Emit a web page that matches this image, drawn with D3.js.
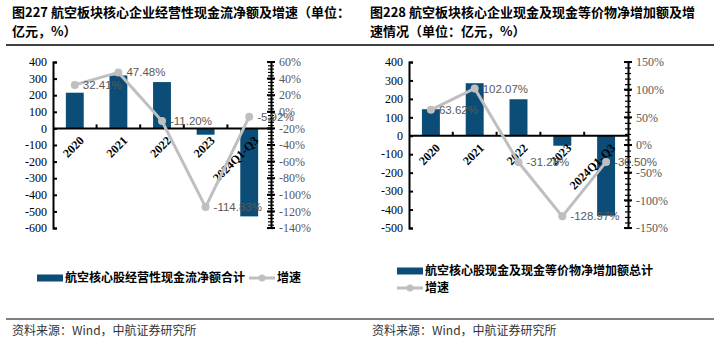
<!DOCTYPE html>
<html><head><meta charset="utf-8">
<script src="https://cdn.jsdelivr.net/npm/d3@7"></script>
<style>
html,body{margin:0;padding:0;background:#fff;}
svg{display:block;}
</style></head>
<body>
<svg id="c" width="721" height="349"></svg>
<script>
// ---- data ----
const categories = ["2020", "2021", "2022", "2023", "2024Q1-Q3"];
const opCashFlow = [215, 319, 279, -38, -530];          // 亿元
const opCashGrowth = [32.41, 47.48, -11.20, -114.83, -5.92]; // %
const netCashIncrease = [144, 285, 198, -54, -433];     // 亿元
const netCashGrowth = [63.62, 102.07, -31.28, -128.97, -30.50]; // %
const leftTicks1 = [400, 300, 200, 100, 0, -100, -200, -300, -400, -500, -600];
const rightTicks1 = [60, 40, 20, 0, -20, -40, -60, -80, -100, -120, -140];
const leftTicks2 = [400, 300, 200, 100, 0, -100, -200, -300, -400, -500];
const rightTicks2 = [150, 100, 50, 0, -50, -100, -150];
const title1 = ["图227  航空板块核心企业经营性现金流净额及增速（单位：", "亿元，%）"];
const title2 = ["图228  航空板块核心企业现金及现金等价物净增加额及增", "速情况（单位：亿元，%）"];
const legendBar1 = "航空核心股经营性现金流净额合计";
const legendBar2 = "航空核心股现金及现金等价物净增加额总计";
const legendLine = "增速";
const source = "资料来源：Wind，中航证券研究所";

const svg = d3.select("#c");
const BAR = "#0B4D76", LINE = "#BFBFBF";
const serif = "'Liberation Serif','Times New Roman',serif";
const cjk = "'Noto Sans CJK SC',sans-serif";

// separator lines
svg.append("line").attr("x1",6).attr("x2",714).attr("y1",45).attr("y2",45).attr("stroke","#000").attr("stroke-width",1.5);
svg.append("line").attr("x1",6).attr("x2",714).attr("y1",319).attr("y2",319).attr("stroke","#000").attr("stroke-width",1.2);

function drawChart(o){
  const g = svg.append("g");
  // title
  o.title.forEach((t,i)=>{
    g.append("text").attr("x",o.titleX).attr("y",17+i*19).text(t)
      .attr("font-family",cjk).attr("font-weight","bold").attr("font-size",13).attr("fill","#000");
  });
  const x = d3.scaleBand().domain(categories).range([o.x0,o.x1]).paddingInner(0.59).paddingOuter(0.295);
  const yL = d3.scaleLinear().domain([d3.min(o.lTicks), d3.max(o.lTicks)]).range([o.yBot,o.yTop]);
  const yR = d3.scaleLinear().domain([d3.min(o.rTicks), d3.max(o.rTicks)]).range([o.yBot,o.yTop]);
  // bars
  g.selectAll(".bar").data(o.bars).enter().append("rect")
    .attr("x",(d,i)=>x(categories[i])).attr("width",x.bandwidth())
    .attr("y",d=>yL(Math.max(0,d))).attr("height",d=>Math.abs(yL(d)-yL(0)))
    .attr("fill",BAR);
  // left axis
  const la = g.append("g").attr("transform",`translate(${o.x0},0)`)
    .call(d3.axisRight(yL).tickValues(o.lTicks).tickSize(4).tickFormat(""));
  la.select(".domain").attr("stroke","#000").attr("stroke-width",2);
  la.selectAll(".tick line").attr("stroke","#000").attr("stroke-width",2);
  g.selectAll(".ll").data(o.lTicks).enter().append("text")
    .attr("x",o.x0-6).attr("y",d=>yL(d)).attr("dy","0.35em").attr("text-anchor","end")
    .attr("font-family",serif).attr("font-size",12).attr("fill","#000").text(d=>d);
  // right axis
  const step = (o.rTicks[0]-o.rTicks[1]);
  const minor = d3.range(d3.min(o.rTicks), d3.max(o.rTicks)+0.001, step/5);
  const ra = g.append("g").attr("transform",`translate(${o.x1},0)`)
    .call(d3.axisRight(yR).tickValues(minor).tickSize(3).tickSizeOuter(0).tickFormat(""));
  ra.select(".domain").attr("stroke","#000").attr("stroke-width",2);
  ra.selectAll(".tick line").attr("stroke","#000").attr("stroke-width",1.2).attr("x1",-3);
  g.selectAll(".rmaj").data(o.rTicks).enter().append("line")
    .attr("x1",o.x1-4).attr("x2",o.x1+4).attr("y1",d=>yR(d)).attr("y2",d=>yR(d))
    .attr("stroke","#000").attr("stroke-width",2);
  g.selectAll(".rl").data(o.rTicks).enter().append("text")
    .attr("x",o.x1+8).attr("y",d=>yR(d)).attr("dy","0.35em")
    .attr("font-family",serif).attr("font-size",12).attr("fill","#595959").text(d=>d+"%");
  // x axis (zero line)
  g.append("line").attr("x1",o.x0).attr("x2",o.x1).attr("y1",yL(0)).attr("y2",yL(0)).attr("stroke","#000").attr("stroke-width",2);
  const bounds = categories.slice(1).map(c=>x(c)-x.step()*x.paddingInner()/2);
  g.selectAll(".xt").data(bounds).enter().append("line")
    .attr("x1",d=>d).attr("x2",d=>d).attr("y1",yL(0)).attr("y2",yL(0)-4).attr("stroke","#000").attr("stroke-width",2);
  g.selectAll(".xl").data(categories).enter().append("text")
    .attr("transform",c=>`translate(${x(c)+x.bandwidth()/2+4},${yL(0)+7}) rotate(-45)`)
    .attr("text-anchor","end").attr("dy","0.7em")
    .attr("font-family",serif).attr("font-weight","bold").attr("font-size",12).attr("fill","#000").text(c=>c);
  // line
  const cx = (d,i)=>x(categories[i])+x.bandwidth()/2;
  g.append("path").datum(o.line)
    .attr("d",d3.line().x(cx).y(d=>yR(d)))
    .attr("fill","none").attr("stroke",LINE).attr("stroke-width",3);
  g.selectAll(".pt").data(o.line).enter().append("circle")
    .attr("cx",cx).attr("cy",d=>yR(d)).attr("r",4).attr("fill",LINE);
  g.selectAll(".pl").data(o.line).enter().append("text")
    .attr("x",(d,i)=>cx(d,i)+8).attr("y",d=>yR(d)).attr("dy","0.35em")
    .attr("font-family","'Liberation Sans',Arial,sans-serif").attr("font-size",11.5).attr("fill","#595959")
    .text(d=>d.toFixed(2)+"%");
  // legend
  const lg = g.append("g");
  lg.append("rect").attr("x",o.lgX).attr("y",o.lgY-3.5).attr("width",26).attr("height",7).attr("fill",BAR);
  const t1 = lg.append("text").attr("x",o.lgX+28).attr("y",o.lgY).attr("dy","0.35em")
    .attr("font-family",cjk).attr("font-weight","bold").attr("font-size",12).attr("fill","#000").text(o.legendBar);
  let lx, ly;
  if (o.lgWrap){ lx = o.lgX; ly = o.lgY+17; }
  else { lx = o.lgX+28+t1.node().getComputedTextLength()+4; ly = o.lgY; }
  lg.append("line").attr("x1",lx).attr("x2",lx+26).attr("y1",ly).attr("y2",ly).attr("stroke",LINE).attr("stroke-width",3);
  lg.append("circle").attr("cx",lx+13).attr("cy",ly).attr("r",3.5).attr("fill",LINE);
  lg.append("text").attr("x",lx+28).attr("y",ly).attr("dy","0.35em")
    .attr("font-family",cjk).attr("font-weight","bold").attr("font-size",12).attr("fill","#000").text(legendLine);
  // source
  g.append("text").attr("x",o.srcX).attr("y",335).text(source)
    .attr("font-family",cjk).attr("font-size",12).attr("fill","#333");
}

drawChart({title:title1,titleX:12,x0:53,x1:271,yTop:62,yBot:228,lTicks:leftTicks1,rTicks:rightTicks1,
  bars:opCashFlow,line:opCashGrowth,legendBar:legendBar1,lgX:37,lgY:278,lgWrap:false,srcX:12});
drawChart({title:title2,titleX:370,x0:409,x1:628,yTop:62,yBot:228,lTicks:leftTicks2,rTicks:rightTicks2,
  bars:netCashIncrease,line:netCashGrowth,legendBar:legendBar2,lgX:397,lgY:271,lgWrap:true,srcX:372});
</script>
</body></html>
